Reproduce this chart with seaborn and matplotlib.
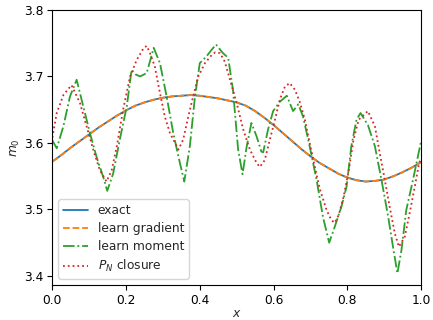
import matplotlib
matplotlib.use("Agg")
import matplotlib.pyplot as plt
import seaborn as sns
import pandas as pd

# exact / learn gradient
x_exact = [0.000, 0.025, 0.050, 0.075, 0.100, 0.125, 0.150, 0.175, 0.200, 0.225,
           0.250, 0.275, 0.300, 0.325, 0.350, 0.375, 0.400, 0.425, 0.450, 0.475,
           0.500, 0.525, 0.550, 0.575, 0.600, 0.625, 0.650, 0.675, 0.700, 0.725,
           0.750, 0.775, 0.800, 0.825, 0.850, 0.875, 0.900, 0.925, 0.950, 0.975, 1.000]
y_exact = [3.572, 3.582, 3.593, 3.603, 3.613, 3.623, 3.632, 3.641, 3.649, 3.656,
           3.661, 3.665, 3.668, 3.670, 3.671, 3.672, 3.671, 3.669, 3.667, 3.664,
           3.661, 3.656, 3.648, 3.638, 3.627, 3.615, 3.603, 3.591, 3.580, 3.570,
           3.562, 3.554, 3.548, 3.544, 3.542, 3.543, 3.545, 3.550, 3.556, 3.563, 3.571]
y_grad = [3.572, 3.582, 3.593, 3.603, 3.613, 3.623, 3.632, 3.641, 3.649, 3.656,
          3.661, 3.665, 3.668, 3.670, 3.671, 3.672, 3.671, 3.669, 3.667, 3.664,
          3.661, 3.656, 3.648, 3.638, 3.627, 3.615, 3.603, 3.591, 3.580, 3.570,
          3.562, 3.554, 3.548, 3.544, 3.542, 3.543, 3.545, 3.550, 3.556, 3.563, 3.571]

# learn moment
x_mom = [0.000, 0.012, 0.030, 0.048, 0.066, 0.084, 0.102, 0.120, 0.138, 0.149,
         0.165, 0.183, 0.202, 0.215, 0.226, 0.238, 0.256, 0.275, 0.292, 0.310,
         0.328, 0.346, 0.358, 0.373, 0.387, 0.400, 0.418, 0.432, 0.444, 0.463,
         0.477, 0.490, 0.504, 0.516, 0.527, 0.540, 0.554, 0.567, 0.572, 0.585,
         0.599, 0.617, 0.636, 0.653, 0.667, 0.680, 0.698, 0.717, 0.734, 0.751,
         0.766, 0.784, 0.798, 0.811, 0.825, 0.836, 0.856, 0.875, 0.893, 0.911,
         0.924, 0.936, 0.947, 0.960, 0.978, 1.000]
y_mom = [3.604, 3.592, 3.625, 3.670, 3.695, 3.655, 3.615, 3.579, 3.549, 3.528,
         3.554, 3.605, 3.655, 3.710, 3.703, 3.700, 3.705, 3.743, 3.720, 3.670,
         3.615, 3.570, 3.542, 3.595, 3.670, 3.720, 3.730, 3.740, 3.748, 3.735,
         3.728, 3.680, 3.590, 3.553, 3.594, 3.630, 3.610, 3.587, 3.586, 3.620,
         3.648, 3.662, 3.671, 3.648, 3.658, 3.640, 3.595, 3.544, 3.489, 3.450,
         3.474, 3.504, 3.534, 3.595, 3.635, 3.645, 3.627, 3.595, 3.544, 3.489,
         3.444, 3.404, 3.439, 3.499, 3.544, 3.602]

# P_N closure
x_pn = [0.000, 0.012, 0.030, 0.052, 0.075, 0.093, 0.111, 0.129, 0.147, 0.161,
        0.175, 0.192, 0.211, 0.229, 0.247, 0.256, 0.265, 0.278, 0.292, 0.305,
        0.319, 0.333, 0.342, 0.355, 0.369, 0.382, 0.396, 0.414, 0.432, 0.441,
        0.455, 0.468, 0.482, 0.500, 0.518, 0.536, 0.554, 0.563, 0.576, 0.590,
        0.604, 0.617, 0.631, 0.644, 0.658, 0.671, 0.685, 0.698, 0.712, 0.726,
        0.744, 0.757, 0.766, 0.777, 0.790, 0.804, 0.817, 0.831, 0.856, 0.875,
        0.888, 0.902, 0.915, 0.929, 0.940, 0.956, 0.969, 0.983, 0.995, 1.000]
y_pn = [3.608, 3.645, 3.672, 3.687, 3.660, 3.625, 3.590, 3.559, 3.542, 3.559,
        3.595, 3.650, 3.700, 3.725, 3.742, 3.746, 3.735, 3.715, 3.675, 3.640,
        3.615, 3.600, 3.590, 3.605, 3.640, 3.670, 3.700, 3.720, 3.732, 3.736,
        3.735, 3.722, 3.695, 3.660, 3.620, 3.590, 3.570, 3.564, 3.574, 3.605,
        3.635, 3.665, 3.685, 3.690, 3.680, 3.662, 3.635, 3.600, 3.564, 3.530,
        3.499, 3.484, 3.480, 3.492, 3.519, 3.559, 3.605, 3.635, 3.648, 3.625,
        3.585, 3.544, 3.504, 3.464, 3.444, 3.459, 3.494, 3.534, 3.570, 3.576]

labels = ["exact", "learn gradient", "learn moment", r"$P_N$ closure"]
colors = ["#1f77b4", "#ff7f0e", "#2ca02c", "#d62728"]
styles = ["-", "--", "-.", ":"]

sns.set_style("ticks")
plt.rcParams["font.family"] = ["DejaVu Sans"]
plt.rcParams["font.size"] = 8.8
plt.rcParams["mathtext.fontset"] = "dejavusans"

fig = plt.figure(figsize=(4.33, 3.2), dpi=100)
ax = fig.add_axes([0.1208, 0.1094, 0.9723 - 0.1208, 0.969 - 0.1094])

series = [(x_exact, y_exact), (x_exact, y_grad), (x_mom, y_mom), (x_pn, y_pn)]
for (xs, ys), lab, c, ls in zip(series, labels, colors, styles):
    df = pd.DataFrame({"x": xs, "y": ys})
    sns.lineplot(data=df, x="x", y="y", ax=ax, color=c, linestyle=ls,
                 linewidth=1.3, label=lab, estimator=None, sort=False)

ax.set_xlim(0, 1)
ax.set_ylim(3.3865, 3.8)
ax.set_xticks([0.0, 0.2, 0.4, 0.6, 0.8, 1.0])
ax.set_yticks([3.4, 3.5, 3.6, 3.7, 3.8])
ax.set_xlabel("$x$", labelpad=0)
ax.set_ylabel("$m_0$", labelpad=1.5)
for s in ax.spines.values():
    s.set_linewidth(0.8)
    s.set_color("black")
ax.tick_params(direction="out", length=3.5, width=0.8, colors="black", labelsize=8.8, pad=3)
ax.legend(loc="lower left", frameon=True, fontsize=8.8, handlelength=2.0, labelspacing=0.4)
fig.savefig("out.png", dpi=100)
